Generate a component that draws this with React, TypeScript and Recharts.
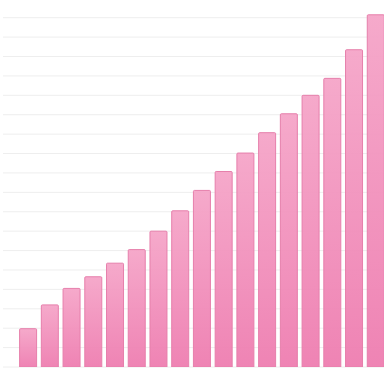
import React from "react";
import { BarChart, Bar, XAxis, YAxis, CartesianGrid } from "recharts";

const categories = ["1", "2", "3", "4", "5", "6", "7", "8", "9", "10", "11", "12", "13", "14", "15", "16", "17"];
const values = [39.5, 64, 81, 93, 107, 121, 140, 161, 182, 201.5, 220.5, 241.5, 261, 280, 297.5, 327, 363];
const yTicks = [0, 20, 40, 60, 80, 100, 120, 140, 160, 180, 200, 220, 240, 260, 280, 300, 320, 340, 360];

const data = categories.map((c, i) => ({ name: c, value: values[i] }));

export default function App() {
  return (
    <div style={{ position: "absolute", left: 0, top: 0, width: 384, height: 384, overflow: "hidden", background: "#fff" }}>
      <BarChart
        width={387}
        height={384}
        data={data}
        margin={{ top: 8, right: 0, bottom: 17, left: 3 }}
      >
        <defs>
          <linearGradient id="pinkGrad" x1="0" y1="0" x2="0" y2="1">
            <stop offset="0%" stopColor="#f5a5c8" />
            <stop offset="100%" stopColor="#ee7db0" />
          </linearGradient>
        </defs>
        <CartesianGrid vertical={false} stroke="#eeeeee" horizontalValues={yTicks} />
        <XAxis dataKey="name" hide padding={{ left: 14.6, right: 0 }} />
        <YAxis
          width={0}
          domain={[0, 370]}
          ticks={yTicks}
          interval={0}
          tick={{ fontSize: 0 }}
          tickLine={false}
          axisLine={{ stroke: "#e4e4e4" }}
          allowDataOverflow
        />
        <Bar
          dataKey="value"
          fill="url(#pinkGrad)"
          fillOpacity={0.95}
          stroke="#e67fab"
          strokeWidth={1}
          barSize={17}
          radius={[1, 1, 0, 0]}
          isAnimationActive={false}
        />
      </BarChart>
    </div>
  );
}
